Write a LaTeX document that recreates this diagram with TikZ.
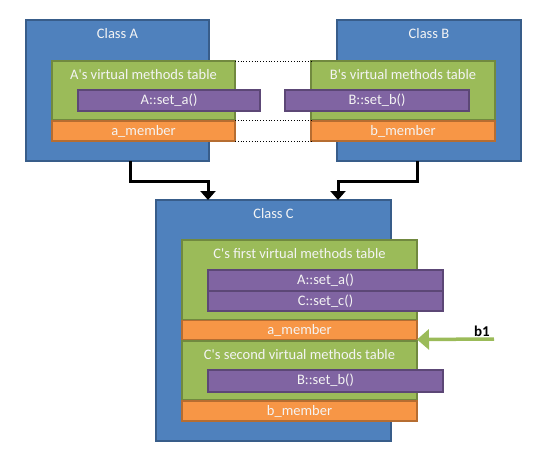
\documentclass[tikz,border=0pt]{standalone}
\usepackage{fontspec}
\setmainfont{Carlito}
\usetikzlibrary{arrows.meta,calc}
\definecolor{blueF}{HTML}{4F81BD}
\definecolor{blueD}{HTML}{385D8A}
\definecolor{greenF}{HTML}{9BBB59}
\definecolor{greenD}{HTML}{71893F}
\definecolor{purpF}{HTML}{8064A2}
\definecolor{purpD}{HTML}{5C4776}
\definecolor{oranF}{HTML}{F79646}
\definecolor{oranD}{HTML}{B66D31}
\definecolor{txt}{HTML}{F4F4F4}
\newcommand{\aps}{\textquotesingle}
\begin{document}
\begin{tikzpicture}[x=1pt,y=-1pt,
  every node/.style={inner sep=0pt, outer sep=0pt},
  lbl/.style={text=txt, font=\fontsize{14.5}{17}\selectfont},
  classbox/.style={draw=blueD, fill=blueF, line width=2pt},
  tablebox/.style={draw=greenD, fill=greenF, line width=2pt},
  methodbox/.style={draw=purpD, fill=purpF, line width=2pt, lbl},
  memberbox/.style={draw=oranD, fill=oranF, line width=1.5pt, lbl},
  linkline/.style={dotted, line width=0.8pt, black},
  inherit/.style={line width=3pt, black, -{Triangle[length=9pt,width=15pt]}},
  ptr/.style={line width=3.5pt, greenF, -{Triangle[length=12pt,width=20pt]}}
]
\useasboundingbox (0,0) rectangle (547,461);

% Class A
\node[classbox, minimum width=183, minimum height=141] (A) at (117.5,90.5) {};
\node[lbl] (At) at ($(A.north)+(0,14)$) {Class A};
\node[tablebox, minimum width=183, minimum height=59] (AV) at (143.5,90.5) {};
\node[lbl] (AVt) at ($(AV.north)+(0,13.5)$) {A\aps s virtual methods table};
\node[methodbox, minimum width=182, minimum height=21] (Aseta) at (169,100.5) {A::set\_a()};
\node[memberbox, minimum width=183, minimum height=20] (Am) at (143.5,131) {a\_member};

% Class B
\node[classbox, minimum width=184, minimum height=141] (B) at (429,90.5) {};
\node[lbl] (Bt) at ($(B.north)+(0,14)$) {Class B};
\node[tablebox, minimum width=184, minimum height=59] (BV) at (403,90.5) {};
\node[lbl] (BVt) at ($(BV.north)+(0,13.5)$) {B\aps s virtual methods table};
\node[methodbox, minimum width=184, minimum height=21] (Bsetb) at (377,100.5) {B::set\_b()};
\node[memberbox, minimum width=184, minimum height=20] (Bm) at (403,131) {b\_member};

% dotted links
\draw[linkline] (AV.north east) -- (BV.north west);
\draw[linkline] (AV.south east) -- (BV.south west);
\draw[linkline] (Am.south east) -- (Bm.south west);

% Class C
\node[classbox, minimum width=235, minimum height=241] (C) at (273.5,320.5) {};
\node[lbl] (Ct) at ($(C.north)+(0,14)$) {Class C};
\node[tablebox, minimum width=235, minimum height=80] (CV1) at (299.5,280) {};
\node[lbl] (CV1t) at ($(CV1.north)+(0,14)$) {C\aps s first virtual methods table};
\node[methodbox, minimum width=235, minimum height=21] (Cseta) at (325.5,280.5) {A::set\_a()};
\node[methodbox, minimum width=235, minimum height=20] (Csetc) at (325.5,301) {C::set\_c()};
\node[memberbox, minimum width=235, minimum height=19] (Cam) at (299.5,330) {a\_member};
\node[tablebox, minimum width=235, minimum height=59] (CV2) at (299.5,370.5) {};
\node[lbl] (CV2t) at ($(CV2.north)+(0,13.5)$) {C\aps s second virtual methods table};
\node[methodbox, minimum width=235, minimum height=22] (Csetb) at (325.5,380.5) {B::set\_b()};
\node[memberbox, minimum width=235, minimum height=20] (Cbm) at (299.5,411) {b\_member};

% inheritance arrows
\draw[inherit] ([xshift=12.5pt]A.south) -- ++(0,20) -| ([xshift=-65.5pt]C.north);
\draw[inherit] ([xshift=-12pt]B.south) -- ++(0,20) -| ([xshift=64.5pt]C.north);

% b1 pointer
\node[font=\fontsize{15}{17}\selectfont\bfseries] (b1) at (482,331) {b1};
\coordinate (b1start) at (494,339);
\draw[ptr] (b1start) -- (Cam.south east);
\end{tikzpicture}
\end{document}
